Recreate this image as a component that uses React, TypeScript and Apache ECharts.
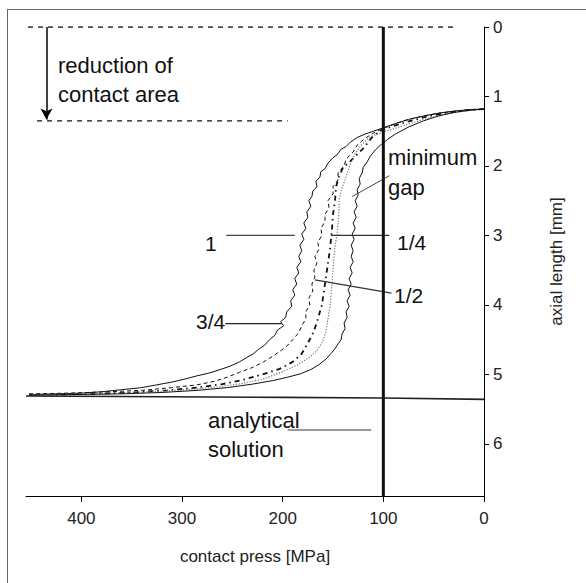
import React, { useEffect, useRef } from "react";
import * as echarts from "echarts";

// Axis ranges (contact pressure reversed, axial length downwards)
const X_MIN = 0;
const X_MAX = 455;
const X_INTERVAL = 100;
const Y_MIN = 0;
const Y_MAX = 6.75;
const Y_INTERVAL = 1;

// curve "1" (outermost, wavy solid)
const curveOne: number[][] = [
  [0, 1.18], [15, 1.19], [30, 1.21], [45, 1.24], [60, 1.28], [75, 1.33], [88, 1.39], [100, 1.45],
  [110, 1.5], [118, 1.54], [126, 1.59], [133, 1.66], [137, 1.72], [142, 1.76], [146, 1.84], [150, 1.88],
  [155, 1.96], [158, 2.04], [162, 2.08], [163, 2.16], [167, 2.22], [166, 2.3], [170, 2.36], [171, 2.44],
  [174, 2.5], [172, 2.58], [176, 2.66], [175, 2.74], [179, 2.82], [177, 2.9], [181, 2.98], [179, 3.06],
  [183, 3.14], [181, 3.22], [184, 3.3], [182, 3.38], [186, 3.46], [184, 3.54], [188, 3.62], [186, 3.7],
  [190, 3.78], [188, 3.86], [192, 3.94], [191, 4.02], [196, 4.1], [197, 4.18], [202, 4.24], [199, 4.3],
  [205, 4.36], [208, 4.44], [213, 4.5], [218, 4.58], [224, 4.64], [229, 4.7], [236, 4.76], [243, 4.82],
  [252, 4.88], [262, 4.93], [273, 4.98], [285, 5.02], [298, 5.07], [310, 5.11], [325, 5.15], [340, 5.19],
  [360, 5.22], [380, 5.25], [400, 5.27], [425, 5.28], [452, 5.29],
];

// dashed curve
const curveDashed: number[][] = [
  [0, 1.18], [20, 1.2], [40, 1.23], [60, 1.28], [80, 1.35], [95, 1.43], [108, 1.51], [118, 1.6],
  [126, 1.7], [130, 1.8], [137, 1.9], [139, 2.0], [145, 2.1], [145, 2.2], [150, 2.3], [150, 2.4],
  [155, 2.5], [154, 2.6], [158, 2.7], [158, 2.8], [162, 2.9], [161, 3.0], [165, 3.1], [164, 3.2],
  [168, 3.3], [166, 3.4], [169, 3.5], [168, 3.6], [171, 3.7], [170, 3.8], [174, 3.9], [173, 4.0],
  [177, 4.1], [177, 4.2], [181, 4.3], [184, 4.4], [190, 4.5], [195, 4.58], [202, 4.66], [210, 4.74],
  [219, 4.82], [230, 4.9], [243, 4.97], [255, 5.04], [268, 5.1], [285, 5.15], [310, 5.19], [340, 5.23],
  [375, 5.25], [415, 5.27], [453, 5.28],
];

// dash-dot (bold) curve
const curveDashDot: number[][] = [
  [0, 1.18], [20, 1.2], [40, 1.24], [60, 1.3], [80, 1.38], [95, 1.45], [104, 1.5], [112, 1.6],
  [120, 1.75], [128, 1.86], [134, 1.95], [140, 2.02], [144, 2.15], [147, 2.3], [148, 2.5], [150, 2.7],
  [151, 2.9], [152, 3.05], [153, 3.2], [155, 3.4], [157, 3.6], [159, 3.8], [161, 4.0], [165, 4.2],
  [169, 4.38], [175, 4.55], [181, 4.7], [190, 4.82], [203, 4.92], [220, 5.0], [240, 5.08], [260, 5.14],
  [285, 5.19], [315, 5.23], [350, 5.26], [390, 5.28], [430, 5.29],
];

// dotted grey curve
const curveDotted: number[][] = [
  [0, 1.18], [20, 1.21], [40, 1.26], [60, 1.33], [80, 1.42], [98, 1.5], [113, 1.58], [122, 1.7],
  [128, 1.82], [133, 1.98], [137, 2.15], [141, 2.32], [144, 2.48], [144, 2.65], [145, 2.82], [146, 2.98],
  [148, 3.15], [149, 3.32], [150, 3.5], [151, 3.68], [152, 3.85], [153, 4.02], [155, 4.2], [157, 4.38],
  [160, 4.52], [166, 4.66], [174, 4.76], [185, 4.86], [200, 4.96], [218, 5.06], [240, 5.13], [265, 5.18],
  [295, 5.22], [330, 5.25], [370, 5.27], [410, 5.28], [450, 5.29],
];

// minimum gap curve (rightmost, wavy solid)
const curveMinGap: number[][] = [
  [0, 1.18], [15, 1.2], [30, 1.23], [45, 1.28], [60, 1.35], [75, 1.44], [88, 1.54], [96, 1.62],
  [102, 1.69], [108, 1.77], [113, 1.86], [116, 1.94], [120, 2.02], [121, 2.1], [124, 2.18], [123, 2.26],
  [126, 2.34], [125, 2.42], [128, 2.5], [126, 2.58], [129, 2.66], [127, 2.74], [130, 2.82], [128, 2.9],
  [131, 2.98], [129, 3.06], [132, 3.14], [130, 3.22], [132, 3.3], [130, 3.38], [133, 3.46], [131, 3.54],
  [134, 3.62], [132, 3.7], [135, 3.78], [133, 3.86], [136, 3.94], [134, 4.02], [137, 4.1], [136, 4.18],
  [139, 4.26], [138, 4.34], [141, 4.42], [142, 4.5], [145, 4.56], [148, 4.63], [152, 4.7], [157, 4.78],
  [164, 4.86], [172, 4.93], [182, 4.99], [195, 5.04], [210, 5.09], [230, 5.14], [255, 5.19], [285, 5.23],
  [320, 5.26], [360, 5.28], [410, 5.29], [452, 5.3],
];

// analytical solution (horizontal)
const analytical: number[][] = [[455, 5.31], [200, 5.33], [100, 5.34], [0, 5.36]];

// reference lines
const minGapLine: number[][] = [[100, 0], [100, 6.75]];
const topDashed: number[][] = [[453, 0], [28, 0]];
const areaDashed: number[][] = [[444, 1.35], [195, 1.35]];
const arrowFrom = [434.7, 0];
const arrowTo = [434.7, 1.33];

// leader lines
const leaderOne: number[][] = [[256, 3.0], [188, 3.0]];
const leaderQuarter: number[][] = [[152, 3.0], [94, 3.0]];
const leaderHalf: number[][] = [[168, 3.64], [92, 3.83]];
const leaderThreeQuarter: number[][] = [[257, 4.27], [201, 4.27]];
const leaderMinGap: number[][] = [[131, 2.44], [94, 2.14]];
const leaderAnalytical: number[][] = [[195, 5.8], [112, 5.8]];

const FONT = '"Liberation Sans", Arial, sans-serif';

function line(data: number[][], color: string, width: number, type: any, z = 2) {
  return {
    type: "line",
    data,
    showSymbol: false,
    symbol: "none",
    silent: true,
    z,
    lineStyle: { color, width, type },
  };
}

export default function App() {
  const ref = useRef<HTMLDivElement>(null);
  useEffect(() => {
    if (!ref.current) return;
    const chart = echarts.init(ref.current, null, { renderer: "svg" });
    const txt = (text: string, x: number, y: number, size = 22) => ({
      type: "text",
      x,
      y,
      silent: true,
      style: {
        text,
        font: `${size}px ${FONT}`,
        fill: "#111",
        align: "left",
        verticalAlign: "middle",
      },
    });
    chart.setOption({
      animation: false,
      backgroundColor: "#fff",
      grid: { left: 26, right: 102, top: 27, bottom: 87, containLabel: false },
      xAxis: {
        type: "value",
        min: X_MIN,
        max: X_MAX,
        interval: X_INTERVAL,
        inverse: true,
        name: "contact press [MPa]",
        nameLocation: "middle",
        nameGap: 52,
        nameTextStyle: { fontFamily: FONT, fontSize: 17, color: "#222" },
        axisLine: { show: true, onZero: false, lineStyle: { color: "#000", width: 1 } },
        axisTick: { show: true, length: 6, lineStyle: { color: "#000" } },
        axisLabel: { fontFamily: FONT, fontSize: 17, color: "#222", margin: 14, showMaxLabel: false },
        splitLine: { show: false },
      },
      yAxis: {
        type: "value",
        position: "right",
        min: Y_MIN,
        max: Y_MAX,
        interval: Y_INTERVAL,
        inverse: true,
        name: "axial length [mm]",
        nameLocation: "middle",
        nameRotate: 90,
        nameGap: 64,
        nameTextStyle: { fontFamily: FONT, fontSize: 17, color: "#222" },
        axisLine: { show: true, onZero: false, lineStyle: { color: "#000", width: 1 } },
        axisTick: { show: true, length: 5, lineStyle: { color: "#000" } },
        axisLabel: { fontFamily: FONT, fontSize: 17, color: "#222", margin: 9, showMaxLabel: false },
        splitLine: { show: false },
      },
      series: [
        line(topDashed, "#111", 1.3, [5, 5]),
        line(areaDashed, "#111", 1.3, [5, 5]),
        {
          type: "line",
          data: [],
          silent: true,
          markLine: {
            silent: true,
            symbol: ["none", "arrow"],
            symbolSize: [9, 11],
            label: { show: false },
            lineStyle: { color: "#000", width: 1.5, type: "solid" },
            data: [[{ coord: arrowFrom }, { coord: arrowTo }]],
          },
        },
        line(analytical, "#222", 1.6, "solid"),
        line(curveOne, "#111", 1, "solid"),
        line(curveDashed, "#111", 1, [4, 3]),
        line(curveDashDot, "#111", 1.8, [5, 4, 1.5, 4]),
        line(curveDotted, "#777", 1.2, [1.2, 1.6]),
        line(curveMinGap, "#111", 1, "solid"),
        line(minGapLine, "#111", 3, "solid", 5),
        line(leaderOne, "#444", 1.2, "solid"),
        line(leaderQuarter, "#333", 1.2, "solid"),
        line(leaderHalf, "#333", 1.2, "solid"),
        line(leaderThreeQuarter, "#222", 1.2, "solid"),
        line(leaderMinGap, "#444", 1, "solid"),
        line(leaderAnalytical, "#777", 1.6, "solid"),
      ],
      graphic: [
        { type: "line", silent: true, shape: { x1: 8, y1: 9.5, x2: 586, y2: 9.5 }, style: { stroke: "#666", lineWidth: 1 } },
        { type: "line", silent: true, shape: { x1: 7.5, y1: 9, x2: 7.5, y2: 583 }, style: { stroke: "#666", lineWidth: 1 } },
        txt("reduction of", 58, 65.5),
        txt("contact area", 58, 94.5),
        txt("minimum", 388, 157.5),
        txt("gap", 388, 187.5),
        txt("1", 205, 243.5, 21),
        txt("1/4", 397, 242.5, 21),
        txt("1/2", 394, 295, 21),
        txt("3/4", 196, 321.5, 21),
        txt("analytical", 208, 420.5),
        txt("solution", 208, 449.5),
      ],
    });
    return () => chart.dispose();
  }, []);
  return (
    <div
      ref={ref}
      style={{ position: "fixed", left: 0, top: 0, width: 586, height: 583, background: "#fff" }}
    />
  );
}
